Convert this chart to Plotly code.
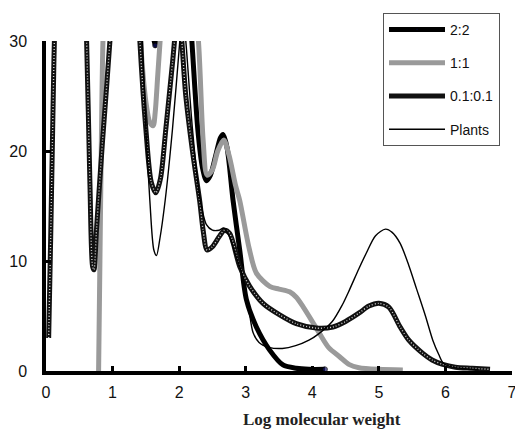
import plotly.graph_objects as go

# ---- data ----
x_22 = [1.55, 1.60, 1.64, 1.68, 1.73, 1.95, 2.18, 2.28, 2.35, 2.41, 2.47, 2.55, 2.62, 2.66,
        2.72, 2.81, 2.91, 3.01, 3.16, 3.36, 3.56, 3.76, 3.95, 4.19]
y_22 = [40, 31, 29.6, 31, 40, 50, 31, 22, 18.5, 17.3, 17.8, 19.6, 21.2, 21.5,
        20.3, 15.5, 11.0, 6.5, 4.0, 1.9, 0.55, 0.25, 0.15, 0.15]

x_11 = [0.79, 0.81, 0.83, 0.86, 1.0, 1.3, 1.42, 1.50, 1.56, 1.61, 1.64, 1.68, 1.75, 2.0,
        2.29, 2.36, 2.42, 2.50, 2.58, 2.67, 2.75, 2.85, 2.91, 3.05, 3.16, 3.36, 3.50,
        3.66, 3.76, 3.86, 4.0, 4.11, 4.25, 4.41, 4.55, 4.7, 5.0, 5.36]
y_11 = [0, 10, 20, 31, 50, 45, 30, 24.5, 22.6, 22.3, 23.5, 27, 33, 50,
        30, 21, 17.8, 18.3, 20.0, 21.0, 19.6, 16.8, 15.5, 11.2, 8.9, 7.7, 7.45,
        7.2, 6.7, 5.85, 4.5, 3.4, 2.1, 1.3, 0.6, 0.3, 0.15, 0.1]

x_01 = [0.04, 0.07, 0.10, 0.13, 0.3, 0.55, 0.61, 0.66, 0.70, 0.72, 0.76, 0.85, 0.96, 1.1,
        1.3, 1.41, 1.50, 1.58, 1.65, 1.72, 1.80, 1.90, 1.99, 2.10, 2.20, 2.31, 2.36,
        2.42, 2.50, 2.60, 2.68, 2.76, 2.91, 3.06, 3.26, 3.51, 3.76, 4.06, 4.31, 4.50,
        4.71, 4.85, 5.0, 5.15, 5.32, 5.45, 5.66, 5.80, 5.96, 6.15, 6.40, 6.67]
y_01 = [3, 12, 22, 31, 60, 40, 30, 17, 9.5, 9.2, 13, 21, 30, 45,
        45, 30, 22, 17.2, 16.2, 17.5, 22, 28, 33, 25, 20, 15.4, 12.8,
        11.0, 11.3, 12.2, 12.8, 12.5, 9.5, 7.7, 6.15, 5.1, 4.3, 3.9, 4.0, 4.5,
        5.3, 5.9, 6.15, 5.8, 4.0, 2.8, 1.6, 1.0, 0.6, 0.35, 0.25, 0.15]

x_pl = [1.35, 1.45, 1.50, 1.56, 1.62, 1.66, 1.71, 1.79, 1.90, 2.01, 2.05, 2.10, 2.20, 2.31,
        2.41, 2.50, 2.60, 2.67, 2.75, 2.85, 2.96, 3.05, 3.11, 3.20, 3.35, 3.55, 3.75,
        3.95, 4.10, 4.30, 4.45, 4.56, 4.70, 4.81, 4.95, 5.10, 5.20, 5.32, 5.45, 5.57,
        5.70, 5.81, 5.90, 5.97, 6.10, 6.30, 6.50]
y_pl = [45, 30, 22, 15.5, 11, 10.5, 12, 15.5, 22, 30, 33, 30, 22, 15.8,
        13.3, 12.8, 12.8, 13.0, 12.3, 10.5, 8.5, 5.5, 3.5, 2.6, 2.15, 2.05, 2.3,
        2.8, 3.4, 4.5, 6.0, 7.4, 9.3, 10.7, 12.3, 12.9, 12.6, 11.6, 9.6, 7.4,
        5.0, 2.8, 1.5, 0.7, 0.35, 0.2, 0.1]

x_ticks = [0, 1, 2, 3, 4, 5, 6, 7]
y_ticks = [0, 10, 20, 30]
x_title = "Log molecular weight"

# ---- figure ----
fig = go.Figure()

mk22 = [0] * len(x_22)
mk22[2] = 5
mk22[-1] = 5

fig.add_trace(go.Scatter(x=x_22, y=y_22, name="2:2", mode="lines+markers", legendgroup="a",
                         line=dict(color="black", width=5, shape="spline", smoothing=0.8),
                         marker=dict(color="#101060", size=mk22)))
fig.add_trace(go.Scatter(x=x_11, y=y_11, name="1:1", mode="lines", legendgroup="b",
                         line=dict(color="#9a9a9a", width=5, shape="spline", smoothing=0.8)))
fig.add_trace(go.Scatter(x=x_01, y=y_01, name="0.1:0.1", mode="lines", legendgroup="c",
                         line=dict(color="#111111", width=5, shape="spline", smoothing=0.8)))
fig.add_trace(go.Scatter(x=x_01, y=y_01, showlegend=False, mode="lines", hoverinfo="skip",
                         legendgroup="c",
                         line=dict(color="#d0d0d0", width=1.4, dash="1px,2px",
                                   shape="spline", smoothing=0.8)))
fig.add_trace(go.Scatter(x=x_pl, y=y_pl, name="Plants", mode="lines", legendgroup="d",
                         line=dict(color="black", width=1.4, shape="spline", smoothing=0.8)))

axis_font = dict(family="Arial, Liberation Sans, sans-serif", size=16, color="#111")

# page has an 8px body margin, so the figure is sized and offset to compensate
W, H, OFF = 515, 422, 8

fig.update_layout(
    width=W, height=H,
    margin=dict(l=46 - OFF, r=11, t=41 - OFF, b=59, autoexpand=False),
    paper_bgcolor="white", plot_bgcolor="white",
    showlegend=True,
    legend=dict(x=(383 - OFF) / W, y=1 - (13 - OFF) / H, xref="container", yref="container",
                xanchor="left", yanchor="top",
                bgcolor="white", bordercolor="#555", borderwidth=1,
                font=dict(family="Arial, Liberation Sans, sans-serif", size=14, color="#111"),
                tracegroupgap=12, itemwidth=56),
    xaxis=dict(range=[0, 7], tickvals=x_ticks, ticks="inside", ticklen=5, tickwidth=2.5,
               tickcolor="black", showline=True, linecolor="black", linewidth=3.5,
               showgrid=False, zeroline=False, tickfont=axis_font, ticklabelstandoff=4,
               automargin=False),
    yaxis=dict(range=[0, 30], tickvals=y_ticks, ticks="inside", ticklen=5, tickwidth=2.5,
               tickcolor="black", showline=True, linecolor="black", linewidth=3.5,
               showgrid=False, zeroline=False, tickfont=axis_font, ticklabelstandoff=12,
               automargin=False),
    annotations=[dict(text=x_title, xref="paper", yref="paper",
                      x=(322 - 46) / 466, y=(371 - 419) / 330,
                      xanchor="center", yanchor="middle", showarrow=False,
                      font=dict(family="Times New Roman, Liberation Serif, serif",
                                size=17, color="#222", weight="bold"))],
)

fig.write_html("out.html")
